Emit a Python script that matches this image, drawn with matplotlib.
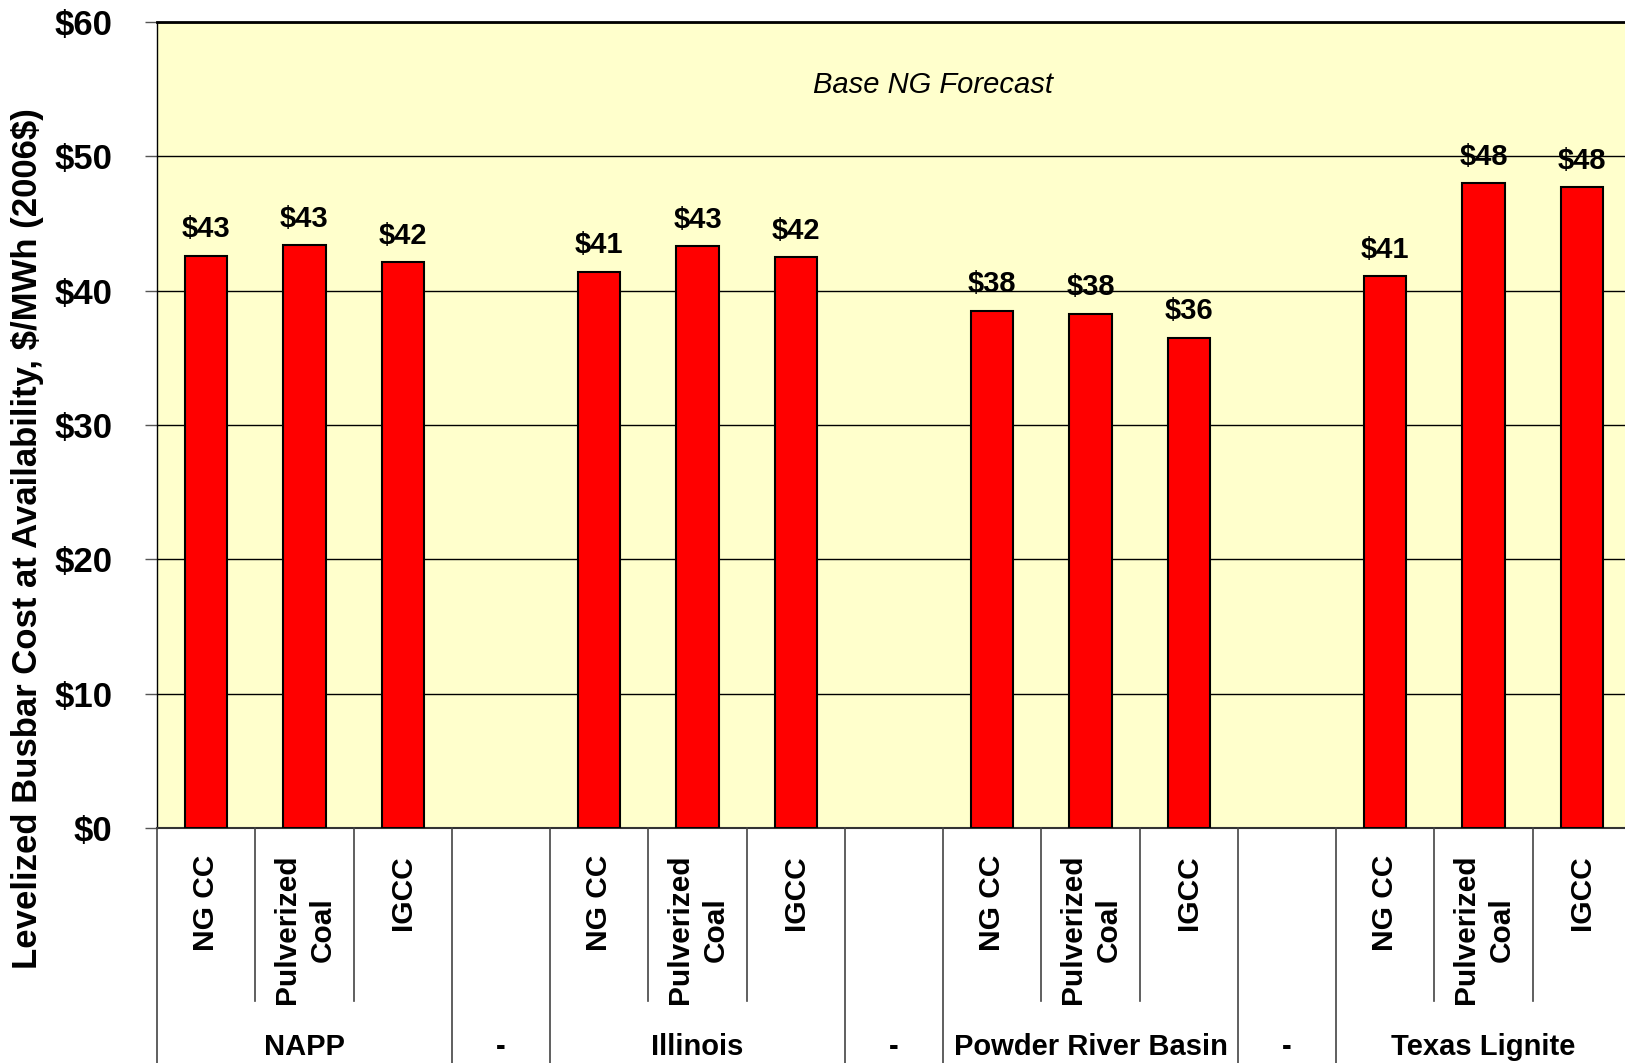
import matplotlib
matplotlib.use("Agg")
import matplotlib.pyplot as plt
from matplotlib.lines import Line2D

plt.rcParams['font.family'] = ['Liberation Sans', 'DejaVu Sans']

groups = ["NAPP", "-", "Illinois", "-", "Powder River Basin", "-", "Texas Lignite"]
group_sizes = [3, 1, 3, 1, 3, 1, 3]
categories = ["NG CC", "Pulverized\nCoal", "IGCC", "",
              "NG CC", "Pulverized\nCoal", "IGCC", "",
              "NG CC", "Pulverized\nCoal", "IGCC", "",
              "NG CC", "Pulverized\nCoal", "IGCC"]
values = [42.6, 43.4, 42.1, None,
          41.4, 43.3, 42.5, None,
          38.5, 38.3, 36.5, None,
          41.1, 48.0, 47.7]
value_labels = ["$43", "$43", "$42", "",
                "$41", "$43", "$42", "",
                "$38", "$38", "$36", "",
                "$41", "$48", "$48"]
yticks = [0, 10, 20, 30, 40, 50, 60]
ytick_labels = ["$0", "$10", "$20", "$30", "$40", "$50", "$60"]

W, H = 1625, 1063
fig = plt.figure(figsize=(W / 100, H / 100), dpi=100)
left_px, right_px, top_px, bot_px = 157, 1631, 22, 828
ax = fig.add_axes([left_px / W, 1 - bot_px / H, (right_px - left_px) / W, (bot_px - top_px) / H])
ax.set_facecolor("#FFFFCC")

n = len(categories)
xs = [i for i, v in enumerate(values) if v is not None]
vs = [v for v in values if v is not None]
ax.bar(xs, vs, width=0.43, color="#FF0000", edgecolor="black", linewidth=1.5, zorder=3)
for i, v in enumerate(values):
    if v is None:
        continue
    ax.annotate(value_labels[i], (i, v), xytext=(0, 19), textcoords="offset points",
                ha="center", va="center", fontsize=21, fontweight="bold", zorder=4)

ax.set_xlim(-0.5, n - 0.5)
ax.set_ylim(0, 60)
ax.set_yticks(yticks)
ax.set_yticklabels(ytick_labels, fontsize=25, fontweight="bold")
ax.tick_params(axis="y", length=9, width=1, color="#555555", pad=23, direction="out")
ax.set_xticks([])
ax.yaxis.grid(True, color="black", linewidth=1.0, zorder=1)
ax.set_axisbelow(True)
ax.spines["right"].set_visible(False)
ax.spines["top"].set_linewidth(2)
ax.spines["top"].set_color("black")
ax.spines["left"].set_color("black")
ax.spines["left"].set_linewidth(1)
ax.spines["bottom"].set_color("#333333")
ax.spines["bottom"].set_linewidth(1.5)

ax.text(0.5265, 0.922, "Base NG Forecast", transform=ax.transAxes, ha="center", va="center",
        fontsize=21, fontstyle="italic")


def xfig(x):
    return fig.transFigure.inverted().transform(ax.transData.transform((x, 0)))[0]


# x-axis category labels
for i, c in enumerate(categories):
    if not c:
        continue
    fig.text(xfig(i), 1 - 855 / H, c, rotation=90, ha="center", va="top", multialignment="center",
             fontsize=21.5, fontweight="bold", linespacing=1.35)

# separators
y0 = 1 - bot_px / H
y_short = 1 - 1001 / H
group_bounds = [-0.5]
pos = -0.5
for g in group_sizes:
    pos += g
    group_bounds.append(pos)
for b in range(n + 1):
    xb = b - 0.5
    if any(abs(xb - gb) < 1e-9 for gb in group_bounds):
        yend = 0.0
    else:
        yend = y_short
    fig.add_artist(Line2D([xfig(xb), xfig(xb)], [y0, yend], color="#444444", linewidth=1.2))

# group labels
start = -0.5
for g, size in zip(groups, group_sizes):
    center = start + size / 2
    fig.text(xfig(center), 1 - 1047 / H, g, ha="center", va="center", fontsize=21, fontweight="bold")
    start += size

fig.text(27.5 / W, 1 - 539 / H, "Levelized Busbar Cost at Availability, \\$/MWh (2006\\$)",
         rotation=90, ha="center", va="center", fontsize=25, fontweight="bold")

fig.savefig("out.png", dpi=100)
